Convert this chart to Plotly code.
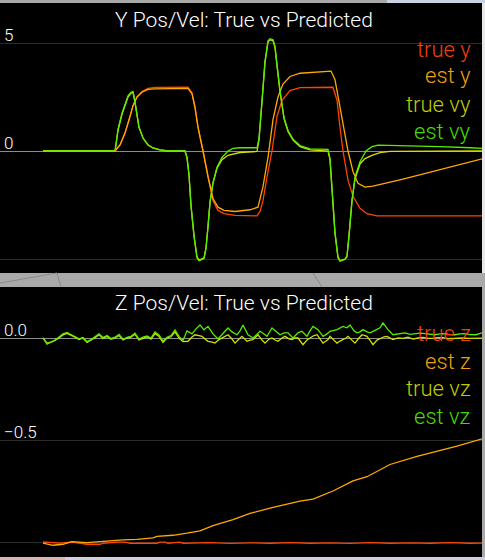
import plotly.graph_objects as go

# ---------------- data (t = sample step) ----------------
# Top panel: Y position / velocity
t_true_y = [0, 72, 77, 82, 87, 90, 94, 99, 105, 112, 145, 149, 152, 155, 160, 165, 170, 175, 181, 192, 214,
            217, 220, 224, 229, 234, 239, 247, 257, 290, 294, 297, 300, 305, 310, 317, 324, 334, 442]
true_y = [0, 0, 0.28, 0.83, 1.6, 2.1, 2.5, 2.75, 2.9, 2.95, 2.96, 2.7, 2.05, 1.1, 0.0, -1.2, -2.3, -2.75, -2.9, -2.98, -3.0,
          -2.8, -2.3, -1.2, 0.0, 1.6, 2.35, 2.8, 2.93, 2.95, 2.35, 1.1, 0.0, -1.35, -2.1, -2.65, -2.9, -3.0, -3.0]

t_est_y = [0, 72, 77, 82, 87, 90, 94, 99, 105, 112, 145, 149, 152, 155, 160, 165, 170, 175, 181, 192, 207, 215,
           220, 225, 230, 235, 240, 247, 257, 288, 292, 297, 302, 305, 310, 315, 322, 330, 360, 390, 420, 442]
est_y = [0, 0, 0.28, 0.83, 1.6, 2.1, 2.5, 2.72, 2.85, 2.88, 2.9, 2.65, 2.0, 1.1, 0.0, -1.2, -2.2, -2.6, -2.75, -2.8, -2.72, -2.6,
         -1.65, -0.3, 1.45, 2.5, 3.1, 3.45, 3.6, 3.7, 3.3, 2.05, 0.83, 0.0, -0.95, -1.5, -1.67, -1.63, -1.3, -0.95, -0.6, -0.33]

t_true_vy = [0, 72, 73, 75, 79, 82, 85, 88, 90, 92, 94, 96, 100, 105, 110, 117, 125, 142, 144, 146, 148, 151, 154, 156,
             161, 163, 165, 167, 170, 174, 179, 185, 197, 214, 216, 219, 222, 225, 227, 230, 232, 234, 237, 241, 245,
             250, 257, 267, 285, 287, 289, 292, 295, 297, 302, 304, 306, 309, 312, 317, 322, 329, 337, 347, 442]
true_vy = [0, 0, 0.3, 0.95, 1.7, 2.15, 2.5, 2.68, 2.72, 2.25, 1.75, 1.1, 0.6, 0.28, 0.14, 0.05, 0.0, 0.0, -0.3, -1.1,
           -2.5, -3.9, -4.9, -5.05, -4.95, -4.5, -3.5, -2.4, -1.5, -0.8, -0.4, -0.2, -0.07, -0.02, 0.5, 2.2, 4.1, 5.05,
           5.15, 5.1, 4.8, 3.95, 2.75, 1.5, 0.9, 0.5, 0.2, 0.05, 0.0, -0.4, -1.9, -3.8, -4.9, -5.08, -5.0, -4.85, -3.9,
           -2.3, -1.3, -0.6, -0.35, -0.2, -0.08, -0.02, 0.0]

t_est_vy = [0, 72, 73, 75, 79, 82, 85, 88, 90, 92, 94, 96, 100, 105, 110, 117, 125, 142, 144, 146, 148, 151, 154, 156,
            161, 163, 165, 167, 170, 174, 179, 185, 190, 197, 214, 216, 219, 222, 225, 227, 230, 232, 234, 237, 241,
            245, 250, 257, 267, 285, 287, 289, 292, 295, 297, 302, 304, 306, 309, 312, 317, 323, 329, 335, 357, 397,
            427, 442]
est_vy = [0, 0, 0.3, 1.0, 1.75, 2.2, 2.55, 2.72, 2.75, 2.27, 1.75, 1.1, 0.6, 0.28, 0.14, 0.05, 0.0, 0.0, -0.3, -1.1,
          -2.55, -3.95, -4.95, -5.08, -4.98, -4.5, -3.5, -2.35, -1.45, -0.75, -0.3, 0.0, 0.12, 0.15, 0.15, 0.6, 2.3,
          4.15, 5.1, 5.2, 5.15, 4.85, 4.0, 2.8, 1.55, 0.95, 0.55, 0.25, 0.1, 0.08, -0.35, -1.85, -3.8, -4.95, -5.1,
          -5.02, -4.9, -3.95, -2.3, -1.2, -0.5, 0.0, 0.2, 0.27, 0.25, 0.2, 0.15, 0.12]

# Bottom panel: Z position / velocity
t_true_z = [0, 17, 29, 37, 44, 57, 60, 75, 82, 87, 114, 117, 122, 125, 132, 137, 140, 157, 167, 187, 207, 227, 247,
            267, 287, 307, 327, 347, 367, 387, 407, 427, 442]
true_z = [-1.0, -1.005, -1.0, -1.005, -1.011, -1.011, -1.006, -1.001, -1.001, -1.006, -1.006, -1.001, -1.001, -1.006,
          -1.001, -1.001, -1.006, -1.006, -1.003, -1.007, -1.004, -1.006, -1.003, -1.006, -1.004, -1.007, -1.003,
          -1.006, -1.004, -1.006, -1.003, -1.006, -1.005]

t_est_z = [0, 4, 10, 20, 24, 29, 44, 57, 67, 80, 94, 110, 114, 130, 144, 149, 157, 170, 190, 207, 230, 257, 270, 290,
           310, 324, 347, 374, 390, 414, 442]
est_z = [-1.006, -1.011, -1.016, -1.011, -1.005, -0.998, -1.003, -0.998, -0.992, -0.99, -0.987, -0.98, -0.972, -0.967,
         -0.957, -0.952, -0.945, -0.92, -0.89, -0.86, -0.83, -0.8, -0.79, -0.75, -0.7, -0.68, -0.62, -0.58, -0.56,
         -0.53, -0.49]

t_est_vz = [0, 4, 8, 12, 16, 20, 24, 28, 32, 36, 40, 44, 48, 52, 56, 60, 64, 68, 72, 76, 80, 84, 88, 92, 96, 100, 104,
            108, 112, 116, 120, 124, 128, 132, 136, 140, 144, 149, 153, 157, 161, 165, 170, 175, 179, 182, 185, 189,
            194, 197, 200, 205, 210, 214, 217, 221, 224, 229, 233, 237, 241, 245, 250, 255, 259, 264, 267, 270, 275,
            280, 284, 287, 294, 300, 304, 307, 311, 314, 317, 320, 324, 327, 331, 334, 337, 340, 345, 350, 357, 362,
            367, 372, 377, 382, 387, 392, 397, 402, 407, 412, 417, 422, 427, 433, 439, 442]
est_vz = [0.0, -0.03, -0.02, -0.01, 0.005, 0.02, 0.027, 0.018, 0.008, -0.004, 0.003, -0.018, -0.008, 0.006, 0.02,
          0.002, 0.012, -0.003, 0.004, 0.018, -0.006, 0.003, 0.008, 0.024, -0.005, 0.004, 0.01, 0.0, 0.03, 0.015,
          -0.015, 0.004, 0.012, 0.04, 0.008, -0.012, 0.035, 0.02, 0.045, 0.064, 0.04, 0.057, 0.02, -0.005, 0.02,
          0.033, 0.049, 0.03, 0.016, 0.035, 0.064, 0.016, 0.0, 0.02, 0.033, 0.02, 0.008, 0.049, 0.03, 0.016, 0.025,
          0.025, 0.0, 0.025, 0.033, 0.008, 0.035, 0.057, 0.041, 0.008, 0.02, 0.033, 0.041, 0.057, 0.05, 0.064, 0.035,
          0.025, 0.03, 0.041, 0.03, 0.025, 0.035, 0.041, 0.05, 0.074, 0.041, 0.016, 0.02, 0.025, 0.018, 0.021, 0.024,
          0.021, 0.018, 0.016, 0.02, 0.021, 0.017, 0.016, 0.02, 0.021, 0.017, 0.016, 0.025, 0.02]

t_true_vz = [0, 4, 8, 12, 16, 20, 24, 28, 32, 36, 40, 44, 48, 52, 56, 60, 64, 68, 72, 76, 80, 84, 88, 92, 96, 100, 104,
             108, 112, 116, 120, 124, 128, 132, 136, 140, 145, 149, 152, 156, 159, 162, 165, 169, 172, 176, 179, 182,
             185, 189, 192, 196, 199, 204, 207, 210, 215, 219, 222, 226, 229, 232, 235, 239, 242, 246, 249, 252, 255,
             260, 264, 267, 271, 274, 277, 280, 283, 285, 287, 291, 294, 297, 300, 303, 305, 309, 312, 316, 319, 322,
             324, 327, 330, 334, 337, 341, 344, 347, 350, 355, 360, 365, 370, 375, 380, 385, 390, 395, 400, 405, 410,
             415, 420, 425, 430, 435, 440, 442]
true_vz = [0.0, -0.025, -0.02, -0.012, 0.0, 0.015, 0.022, 0.014, 0.004, -0.008, 0.0, -0.022, -0.012, 0.002, 0.016,
           -0.002, 0.008, -0.006, 0.0, 0.012, -0.01, 0.0, 0.004, 0.018, -0.01, 0.0, 0.006, -0.006, 0.022, 0.008,
           -0.022, 0.0, 0.006, 0.03, 0.0, -0.018, -0.016, 0.005, 0.016, 0.012, 0.008, -0.005, -0.016, -0.02, -0.025,
           -0.008, 0.0, 0.01, 0.016, -0.005, -0.025, -0.005, 0.008, -0.016, -0.01, -0.008, 0.016, -0.01, -0.025,
           -0.005, 0.0, -0.01, -0.016, 0.0, 0.008, -0.004, -0.008, 0.0, 0.0, -0.033, -0.01, 0.0, 0.012, 0.016, -0.005,
           -0.025, -0.015, -0.008, 0.008, -0.01, -0.025, -0.015, -0.008, 0.0, 0.008, -0.01, -0.025, 0.0, 0.016, 0.012,
           0.008, -0.012, -0.033, -0.01, -0.002, 0.006, 0.008, 0.0, -0.008, 0.0, -0.002, 0.004, -0.005, 0.0, 0.003,
           -0.002, -0.002, 0.002, 0.002, -0.003, -0.002, 0.001, 0.0, -0.002, -0.002, 0.001, 0.0, 0.0]

top_names = ["true y", "est y", "true vy", "est vy"]
bot_names = ["true z", "est z", "true vz", "est vz"]
colors = ["#ff4400", "#ffaa00", "#d4e000", "#55ee00"]
legend_text_colors = ["#f04010", "#f0a010", "#c0cc00", "#44dd00"]

top_ticks = [5, 0, -5]
top_ticktext = ["5", "0", ""]
bot_ticks = [0.0, -0.5, -1.0]
bot_ticktext = ["0.0", "\u22120.5", ""]

titles = ["Y Pos/Vel: True vs Predicted", "Z Pos/Vel: True vs Predicted"]

# ---------------- figure ----------------
W, H = 485, 560
FONT = "Roboto, Liberation Sans, Arial, sans-serif"

fig = go.Figure()
top_series = [(t_true_y, true_y), (t_est_y, est_y), (t_true_vy, true_vy), (t_est_vy, est_vy)]
bot_series = [(t_true_z, true_z), (t_est_z, est_z), (t_true_vz, true_vz), (t_est_vz, est_vz)]
for (tx, ty), name, c in zip(top_series, top_names, colors):
    fig.add_trace(go.Scatter(x=tx, y=ty, mode="lines", name=name, line=dict(color=c, width=1.3),
                             xaxis="x", yaxis="y", showlegend=False))
for (tx, ty), name, c in zip(bot_series, bot_names, colors):
    fig.add_trace(go.Scatter(x=tx, y=ty, mode="lines", name=name, line=dict(color=c, width=1.3),
                             xaxis="x2", yaxis="y2", showlegend=False))

def py(p):
    return 1 - p / H

xr = [-43, 439]
xdom = [0, 482 / W]
axis_common = dict(showgrid=True, gridcolor="#2c2c2c", gridwidth=1, zeroline=True, zerolinecolor="#8c8c8c",
                   zerolinewidth=1.2, showline=False, ticks="", ticklabelposition="inside",
                   tickfont=dict(family=FONT, size=17, color="#ffffff", weight=300),
                   ticklabelstandoff=1, ticklabelshift=-8)
fig.update_layout(
    width=W, height=H, margin=dict(l=0, r=0, t=0, b=0),
    paper_bgcolor="#a9a9a9", plot_bgcolor="#000000",
    xaxis=dict(domain=xdom, range=xr, visible=False, anchor="y"),
    xaxis2=dict(domain=xdom, range=xr, visible=False, anchor="y2"),
    yaxis=dict(domain=[py(273), py(3)], range=[-5.648, 6.852], tickvals=top_ticks, ticktext=top_ticktext,
               anchor="x", **axis_common),
    yaxis2=dict(domain=[py(557), py(287)], range=[-1.0735, 0.25], tickvals=bot_ticks, ticktext=bot_ticktext,
                anchor="x2", **axis_common),
)

# Titles
for title, ypix in zip(titles, [20, 303]):
    fig.add_annotation(text=title, xref="paper", yref="paper", x=244 / W, y=py(ypix), xanchor="center",
                       yanchor="middle", showarrow=False,
                       font=dict(family=FONT, size=21, color="#ffffff", weight=300))

# Legend labels (coloured text, right aligned)
for names, ys in [(top_names, [49, 76, 104, 131]), (bot_names, [333, 361, 388, 416])]:
    for name, c, ypix in zip(names, legend_text_colors, ys):
        fig.add_annotation(text=name, xref="paper", yref="paper", x=473 / W, y=py(ypix), xanchor="right",
                           yanchor="middle", showarrow=False,
                           font=dict(family=FONT, size=22, color=c, weight=300))

# Background decoration of the window frame
shapes = [
    dict(type="rect", xref="paper", yref="paper", x0=387 / W, x1=1, y0=py(3), y1=1, fillcolor="#c9d3e3", line_width=0),
    dict(type="rect", xref="paper", yref="paper", x0=482 / W, x1=1, y0=py(273), y1=py(3), fillcolor="#e8e8e8", line_width=0),
    dict(type="rect", xref="paper", yref="paper", x0=0, x1=1, y0=0, y1=py(557), fillcolor="#d0d0dc", line_width=0),
    dict(type="rect", xref="paper", yref="paper", x0=0, x1=65 / W, y0=0, y1=py(557), fillcolor="#d8b4b4", line_width=0),
    dict(type="line", xref="paper", yref="paper", x0=0, y0=py(283), x1=57 / W, y1=py(273), line=dict(color="#8a8a8a", width=1)),
    dict(type="line", xref="paper", yref="paper", x0=57 / W, y0=py(273), x1=61 / W, y1=py(287), line=dict(color="#8a8a8a", width=1)),
    dict(type="line", xref="paper", yref="paper", x0=313 / W, y0=py(273), x1=322 / W, y1=py(287), line=dict(color="#8a8a8a", width=1)),
]
fig.update_layout(shapes=shapes)

fig.write_html("out.html", config={"displayModeBar": False},
               post_script="document.body.style.margin='0';document.body.style.overflow='hidden';")
